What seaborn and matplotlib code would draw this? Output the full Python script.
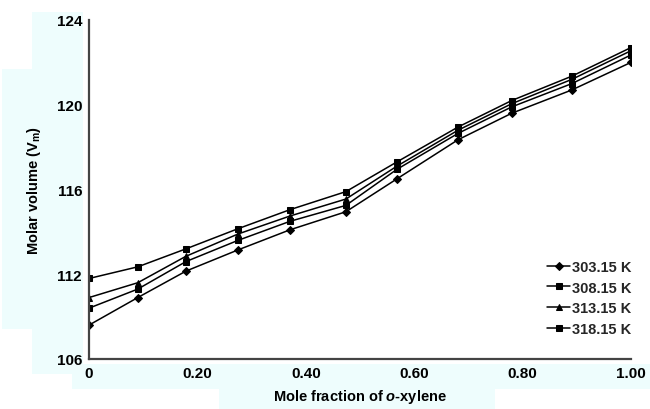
import numpy as np
import pandas as pd
import seaborn as sns
import matplotlib.pyplot as plt
from matplotlib.patches import Rectangle

x_frac = [0, 0.090, 0.179, 0.275, 0.371, 0.474, 0.568, 0.681, 0.780, 0.891, 1.0]
vm_303 = [109.6, 110.9, 112.15, 113.15, 114.1, 114.95, 116.5, 118.35, 119.6, 120.7, 122.0]
vm_308 = [110.4, 111.3, 112.6, 113.6, 114.5, 115.25, 116.95, 118.65, 119.9, 121.0, 122.35]
vm_313 = [110.9, 111.6, 112.85, 113.9, 114.75, 115.55, 117.1, 118.8, 120.05, 121.2, 122.55]
vm_318 = [111.8, 112.35, 113.2, 114.15, 115.05, 115.9, 117.3, 118.95, 120.2, 121.35, 122.7]
temps = ['303.15 K', '308.15 K', '313.15 K', '318.15 K']
yticks = [108, 112, 116, 120, 124]
ytick_labels = ['106', '112', '116', '120', '124']
xticks = [0, 0.2, 0.4, 0.6, 0.8, 1.0]
xtick_labels = ['0', '0.20', '0.40', '0.60', '0.80', '1.00']

df = pd.DataFrame({
    'x': x_frac * 4,
    'vm': vm_303 + vm_308 + vm_313 + vm_318,
    'T': [t for t in temps for _ in x_frac],
})

sns.set_style('white')
plt.rcParams['font.family'] = ['Liberation Sans', 'DejaVu Sans']
plt.rcParams['font.weight'] = 'bold'
plt.rcParams['mathtext.fontset'] = 'custom'
plt.rcParams['mathtext.rm'] = 'Liberation Sans:bold'
plt.rcParams['mathtext.it'] = 'Liberation Sans:italic:bold'

fig = plt.figure(figsize=(6.5, 4.1), dpi=100)

# pale cyan scan background behind labels
cyan = '#eefdfd'
for (x0, y0, w, h) in [(2, 70, 81, 260), (32, 13, 51, 362), (72, 365, 578, 25), (219, 390, 276, 20)]:
    fig.patches.append(Rectangle((x0 / 650, 1 - (y0 + h) / 410), w / 650, h / 410,
                                 transform=fig.transFigure, color=cyan, zorder=-5, lw=0))

ax = fig.add_axes([89 / 650, 1 - 360 / 410, (631 - 89) / 650, (360 - 21) / 410])
ax.set_zorder(2)
ax.patch.set_alpha(0)

sns.lineplot(data=df, x='x', y='vm', hue='T', style='T',
             markers=['D', 's', '^', 's'], dashes=False,
             palette=['black'] * 4, linewidth=1.1, markersize=4.5,
             markeredgecolor='black', ax=ax)

ax.set_xlim(0, 1.0)
ax.set_ylim(108, 124)
ax.set_xticks(xticks)
ax.set_xticklabels(xtick_labels)
ax.set_yticks(yticks)
ax.set_yticklabels(ytick_labels)
ax.tick_params(direction='in', length=4, width=1.2, color='#444444', labelsize=11,
               pad=5, labelcolor='black')
for lab in ax.get_xticklabels() + ax.get_yticklabels():
    lab.set_fontweight('bold')
for s in ['top', 'right']:
    ax.spines[s].set_visible(False)
for s in ['left', 'bottom']:
    ax.spines[s].set_color('#444444')
    ax.spines[s].set_linewidth(1.6)

ax.set_xlabel('Mole fraction of $\\mathit{o}$-xylene', fontsize=10.5, fontweight='bold',
              labelpad=5, color='black')
ax.set_ylabel('Molar volume (V$_\\mathrm{m}$)', fontsize=10.5, fontweight='bold',
              labelpad=10, color='black')

leg = ax.legend(title=None, loc='lower right', frameon=False,
                prop={'size': 10.5, 'weight': 'bold'},
                handlelength=1.6, handletextpad=0.1, labelspacing=0.45,
                bbox_to_anchor=(1.025, 0.03))
for t in leg.get_texts():
    t.set_fontweight('bold')

fig.savefig('out.png', dpi=100)
